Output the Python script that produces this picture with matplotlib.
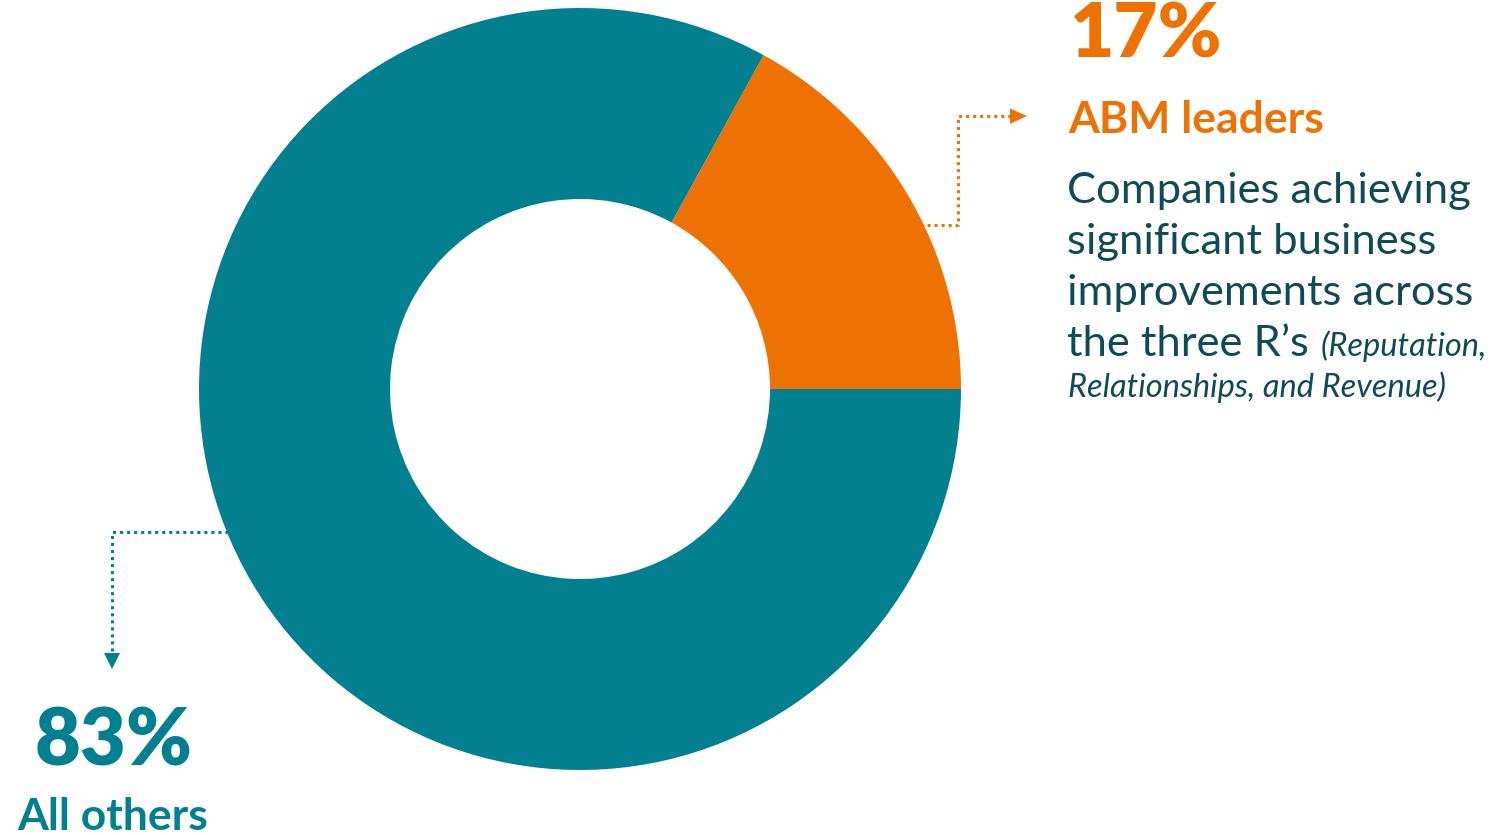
import matplotlib.pyplot as plt
from matplotlib.patches import Polygon

# data
labels = ["ABM leaders", "All others"]
shares = [17, 83]
pct_labels = ["17%", "83%"]
body_lines = ["Companies achieving", "significant business",
              "improvements across", "the three R\u2019s"]
italic_lines = ["(Reputation,", "Relationships, and Revenue)"]

ORANGE = "#EE7203"
TEAL = "#03808F"
DARK = "#0E4B57"

plt.rcParams['font.family'] = ['Lato', 'DejaVu Sans']

W, H = 1511, 835
fig = plt.figure(figsize=(W / 100, H / 100), dpi=100)
ax = fig.add_axes([0, 0, 1, 1])

# donut, y axis runs downward like pixels so go clockwise in data
ax.pie(shares, colors=[ORANGE, TEAL], startangle=0, counterclock=False,
       center=(580, 389), radius=381,
       wedgeprops=dict(width=191, linewidth=0))
ax.set_xlim(0, W)
ax.set_ylim(H, 0)
ax.set_aspect('auto')
ax.axis('off')

# dotted connectors
dot = dict(linewidth=2.2, linestyle=(0, (1, 1.3)), dash_capstyle='butt')
ax.plot([927, 958, 958, 1011], [225, 225, 116, 116], color=ORANGE, **dot)
ax.add_patch(Polygon([[1010, 108.5], [1010, 124], [1027, 116]],
                     closed=True, color=ORANGE, lw=0))
ax.plot([228, 112, 112], [532, 532, 654], color=TEAL, **dot)
ax.add_patch(Polygon([[104, 653], [120, 653], [112, 669]],
                     closed=True, color=TEAL, lw=0))

# orange side text
ax.text(1069, 58, pct_labels[0], color=ORANGE, fontsize=55,
        fontweight='heavy', va='baseline', ha='left')
ax.text(1068, 133, labels[0], color=ORANGE, fontsize=32,
        fontweight='bold', va='baseline', ha='left')

baselines = [203, 254, 305, 356]
last = None
for txt, yb in zip(body_lines, baselines):
    last = ax.text(1067, yb, txt, color=DARK, fontsize=31.3,
                   va='baseline', ha='left')

fig.canvas.draw()
bb = last.get_window_extent().transformed(ax.transData.inverted())
x_it = max(bb.x0, bb.x1) + 12
ax.text(x_it, 356, italic_lines[0], color=DARK, fontsize=23.5,
        style='italic', va='baseline', ha='left')
ax.text(1068, 397, italic_lines[1], color=DARK, fontsize=23.5,
        style='italic', va='baseline', ha='left')

# teal side text
ax.text(114, 766, pct_labels[1], color=TEAL, fontsize=57,
        fontweight='heavy', va='baseline', ha='center')
ax.text(113, 830, labels[1], color=TEAL, fontsize=32,
        fontweight='bold', va='baseline', ha='center')

fig.savefig("out.png", dpi=100)
